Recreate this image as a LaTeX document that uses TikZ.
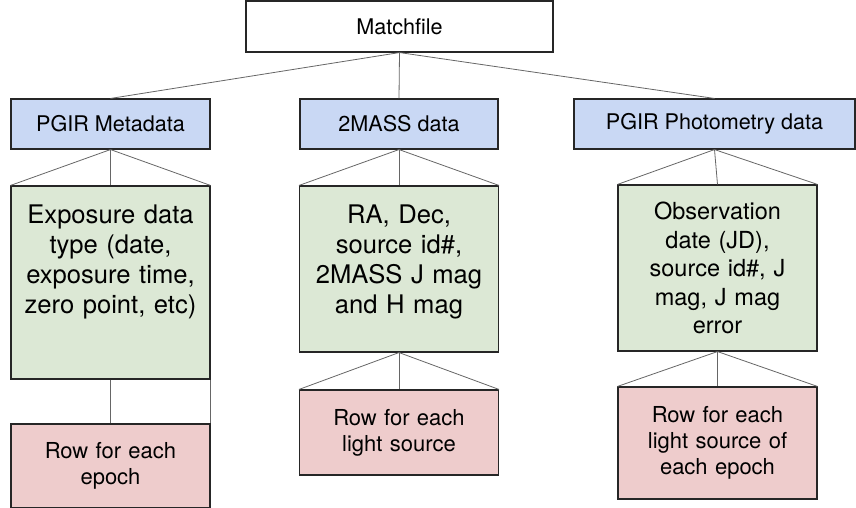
\documentclass[tikz,border=0pt]{standalone}
\usepackage{fontspec}
\setmainfont{TeX Gyre Heros}
\usetikzlibrary{calc}

\definecolor{headblue}{RGB}{201,216,244}
\definecolor{fieldgreen}{RGB}{220,232,213}
\definecolor{rowpink}{RGB}{238,204,204}

\begin{document}
\begin{tikzpicture}[x=1pt, y=-1pt]

    \tikzstyle{box}=[draw=black!85, line width=1.1pt, inner sep=0pt, align=center];
    \tikzstyle{head}=[box, fill=headblue, minimum height=50pt, font=\fontsize{21.6}{25}\selectfont];
    \tikzstyle{field}=[box, fill=fieldgreen, minimum width=199pt];
    \tikzstyle{fieldtext}=[inner sep=0pt, text width=195pt, align=center, font=\fontsize{25.6}{30}\selectfont];
    \tikzstyle{row}=[box, fill=rowpink, minimum width=199pt, text width=190pt, font=\fontsize{22}{26}\selectfont];
    \tikzstyle{link}=[draw=black!60, line width=0.8pt];

    \useasboundingbox (0,0) rectangle (856,507);

    % top of the tree
    \node[box, fill=white, minimum width=307pt, minimum height=51pt, font=\fontsize{21.6}{25}\selectfont] (match) at (399.5, 26.5) {Matchfile};

    \node[head, minimum width=199pt] (meta) at (110.5, 124) {PGIR Metadata};
    \node[head, minimum width=198pt] (twomass) at (399, 124) {2MASS data};
    \node[head, minimum width=281pt] (phot) at (714.5, 124) {PGIR Photometry data};

    % contents of each table
    \node[field, minimum height=193pt, label={[fieldtext, anchor=north, yshift=-19pt]north:Exposure data\\type (date,\\exposure time,\\zero point, etc)}] (metafield) at (110.5, 282.5) {};
    \node[field, minimum height=166pt, label={[fieldtext, anchor=north, yshift=-19pt]north:RA, Dec,\\source id\#,\\2MASS J mag\\and H mag}] (twomassfield) at (399, 269) {};
    \node[field, minimum height=166pt, text width=190pt, font=\fontsize{23.5}{28.5}\selectfont] (photfield) at (717.5, 268) {Observation\\date (JD),\\source id\#, J\\mag, J mag\\error};

    \node[row, minimum height=84pt] (metarow) at (110.5, 466) {Row for each\\epoch};
    \node[row, minimum height=85pt] (twomassrow) at (399, 432.5) {Row for each\\light source};
    \node[row, minimum height=112pt] (photrow) at (717.5, 443) {Row for each\\light source of\\each epoch};

    \draw (match.south) edge[link] (meta.north);
    \draw (match.south) edge[link] (twomass.north);
    \draw (match.south) edge[link] (phot.north);

    \draw (meta.south) edge[link] (metafield.north west);
    \draw (meta.south) edge[link] (metafield.north);
    \draw (meta.south) edge[link] (metafield.north east);

    \draw (twomass.south) edge[link] (twomassfield.north west);
    \draw (twomass.south) edge[link] (twomassfield.north);
    \draw (twomass.south) edge[link] (twomassfield.north east);

    \draw (phot.south) edge[link] (photfield.north west);
    \draw (phot.south) edge[link] (photfield.north);
    \draw (phot.south) edge[link] (photfield.north east);

    \draw (metafield.south) edge[link] (metarow.north);
    \draw (metafield.south east) edge[link] (metarow.north east);

    \draw (twomassfield.south) edge[link] (twomassrow.north west);
    \draw (twomassfield.south) edge[link] (twomassrow.north);
    \draw (twomassfield.south) edge[link] (twomassrow.north east);

    \draw (photfield.south) edge[link] (photrow.north west);
    \draw (photfield.south) edge[link] (photrow.north);
    \draw (photfield.south) edge[link] (photrow.north east);

\end{tikzpicture}
\end{document}
